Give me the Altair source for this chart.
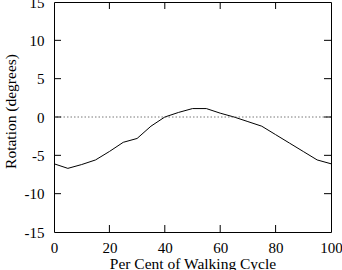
import altair as alt
import pandas as pd

cycle = [0, 5, 10, 15, 20, 25, 30, 35, 40, 45, 50, 55, 60, 65, 70, 75, 80, 85, 90, 95, 100]
rotation = [-6.1, -6.7, -6.2, -5.6, -4.5, -3.3, -2.8, -1.2, 0.0, 0.6, 1.1, 1.1, 0.5, 0.0, -0.6, -1.2, -2.3, -3.4, -4.5, -5.6, -6.1]
x_ticks = [0, 20, 40, 60, 80, 100]
y_ticks = [-15, -10, -5, 0, 5, 10, 15]
x_inner = [20, 40, 60, 80]
y_inner = [-10, -5, 0, 5, 10]

W, H = 277, 230
FONT = "Liberation Serif"

xs = alt.Scale(domain=[0, 100], nice=False, zero=False)
ys = alt.Scale(domain=[-15, 15], nice=False, zero=False)
ax_x = alt.Axis(values=x_ticks, labelPadding=8, titlePadding=1, labelOverlap=False,
                title="Per Cent of Walking Cycle", labelExpr="toString(datum.value)")
ax_y = alt.Axis(values=y_ticks, labelPadding=10, titlePadding=6, titleY=109,
                labelOverlap=False, title="Rotation (degrees)",
                labelExpr="toString(datum.value)")

df = pd.DataFrame({"x": cycle, "y": rotation})
line = alt.Chart(df).mark_line(color="black", strokeWidth=1).encode(
    x=alt.X("x:Q", scale=xs, axis=ax_x),
    y=alt.Y("y:Q", scale=ys, axis=ax_y),
)

zero = alt.Chart(pd.DataFrame({"y": [0]})).mark_rule(
    color="#555555", strokeWidth=0.8, strokeDash=[1.5, 2]
).encode(y=alt.Y("y:Q", scale=ys, axis=ax_y))

xt = pd.DataFrame({"x": x_inner})
yt = pd.DataFrame({"y": y_inner})
tick_style = dict(color="black", strokeWidth=1)
top_t = alt.Chart(xt).mark_rule(**tick_style).encode(
    x=alt.X("x:Q", scale=xs, axis=ax_x), y=alt.value(0), y2=alt.value(7))
bot_t = alt.Chart(xt).mark_rule(**tick_style).encode(
    x=alt.X("x:Q", scale=xs, axis=ax_x), y=alt.value(H), y2=alt.value(H - 7))
left_t = alt.Chart(yt).mark_rule(**tick_style).encode(
    y=alt.Y("y:Q", scale=ys, axis=ax_y), x=alt.value(0), x2=alt.value(7))
right_t = alt.Chart(yt).mark_rule(**tick_style).encode(
    y=alt.Y("y:Q", scale=ys, axis=ax_y), x=alt.value(W), x2=alt.value(W - 7))

chart = alt.layer(line, zero, top_t, bot_t, left_t, right_t).properties(
    width=W, height=H,
    autosize=alt.AutoSizeParams(type="none"),
    padding={"left": 54, "top": 2, "right": 11, "bottom": 38},
    background="white",
).configure_view(stroke="black", strokeWidth=1).configure_axis(
    ticks=False, domain=False, grid=False, labelFont=FONT, titleFont=FONT,
    labelFontSize=15, titleFontSize=15.5, titleFontWeight="normal",
    labelColor="black", titleColor="black", labelFlush=False, labelOverlap=False,
)

chart.save("out.html", embed_options={"renderer": "svg", "actions": False})
